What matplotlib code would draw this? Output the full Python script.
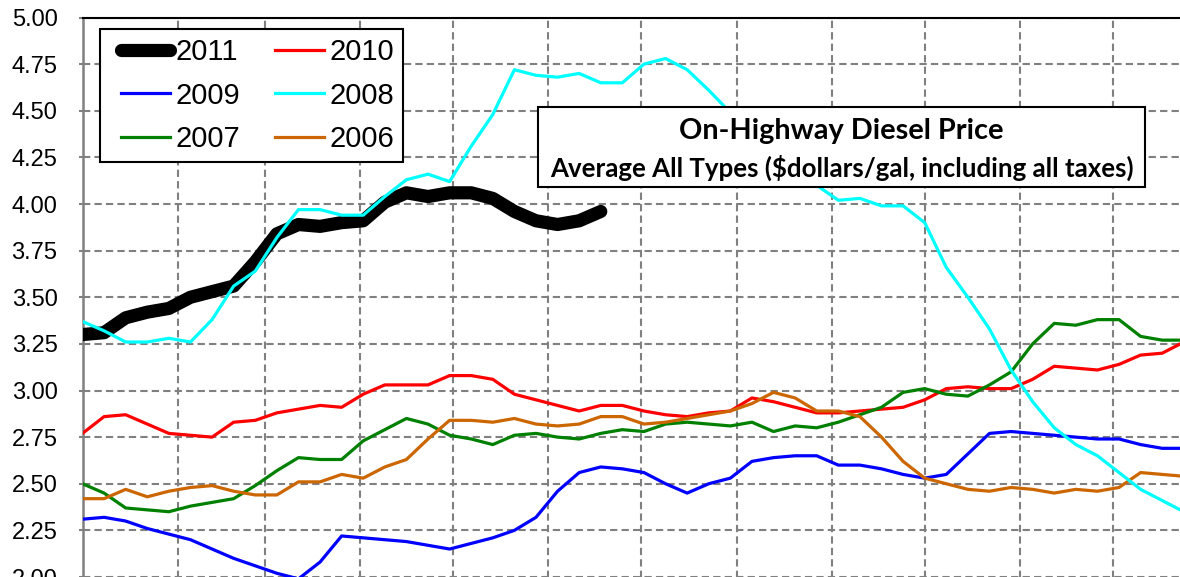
import numpy as np
import matplotlib
matplotlib.use("Agg")
import matplotlib.pyplot as plt
from matplotlib.patches import Rectangle
from matplotlib.legend_handler import HandlerLine2D

# weekly on-highway diesel prices ($/gal), week index 0..51
y2011 = [3.30, 3.31, 3.39, 3.42, 3.44, 3.50, 3.53, 3.56, 3.69, 3.84, 3.89, 3.88, 3.90,
         3.91, 4.01, 4.06, 4.04, 4.06, 4.06, 4.03, 3.96, 3.91, 3.89, 3.91, 3.96]
y2010 = [2.77, 2.86, 2.87, 2.82, 2.77, 2.76, 2.75, 2.83, 2.84, 2.88, 2.90, 2.92, 2.91,
         2.98, 3.03, 3.03, 3.03, 3.08, 3.08, 3.06, 2.98, 2.95, 2.92, 2.89, 2.92, 2.92,
         2.89, 2.87, 2.86, 2.88, 2.89, 2.96, 2.94, 2.91, 2.88, 2.88, 2.89, 2.90, 2.91,
         2.95, 3.01, 3.02, 3.01, 3.01, 3.06, 3.13, 3.12, 3.11, 3.14, 3.19, 3.20, 3.26]
y2009 = [2.31, 2.32, 2.30, 2.26, 2.23, 2.20, 2.15, 2.10, 2.06, 2.02, 1.99, 2.08, 2.22,
         2.21, 2.20, 2.19, 2.17, 2.15, 2.18, 2.21, 2.25, 2.32, 2.46, 2.56, 2.59, 2.58,
         2.56, 2.50, 2.45, 2.50, 2.53, 2.62, 2.64, 2.65, 2.65, 2.60, 2.60, 2.58, 2.55,
         2.53, 2.55, 2.66, 2.77, 2.78, 2.77, 2.76, 2.75, 2.74, 2.74, 2.71, 2.69, 2.69]
y2008 = [3.37, 3.32, 3.26, 3.26, 3.28, 3.26, 3.38, 3.56, 3.64, 3.82, 3.97, 3.97, 3.94,
         3.94, 4.04, 4.13, 4.16, 4.12, 4.31, 4.48, 4.72, 4.69, 4.68, 4.70, 4.65, 4.65,
         4.75, 4.78, 4.72, 4.61, 4.49, 4.39, 4.29, 4.19, 4.10, 4.02, 4.03, 3.99, 3.99,
         3.90, 3.66, 3.50, 3.33, 3.11, 2.94, 2.80, 2.71, 2.65, 2.56, 2.47, 2.41, 2.35]
y2007 = [2.50, 2.45, 2.37, 2.36, 2.35, 2.38, 2.40, 2.42, 2.49, 2.57, 2.64, 2.63, 2.63,
         2.73, 2.79, 2.85, 2.82, 2.76, 2.74, 2.71, 2.76, 2.77, 2.75, 2.74, 2.77, 2.79,
         2.78, 2.82, 2.83, 2.82, 2.81, 2.83, 2.78, 2.81, 2.80, 2.83, 2.87, 2.91, 2.99,
         3.01, 2.98, 2.97, 3.03, 3.10, 3.25, 3.36, 3.35, 3.38, 3.38, 3.29, 3.27, 3.27]
y2006 = [2.42, 2.42, 2.47, 2.43, 2.46, 2.48, 2.49, 2.46, 2.44, 2.44, 2.51, 2.51, 2.55,
         2.53, 2.59, 2.63, 2.74, 2.84, 2.84, 2.83, 2.85, 2.82, 2.81, 2.82, 2.86, 2.86,
         2.82, 2.83, 2.85, 2.87, 2.89, 2.93, 2.99, 2.96, 2.89, 2.89, 2.86, 2.75, 2.62,
         2.53, 2.50, 2.47, 2.46, 2.48, 2.47, 2.45, 2.47, 2.46, 2.48, 2.56, 2.55, 2.54]

month_starts = [0, 31, 59, 90, 120, 151, 181, 212, 243, 273, 304, 334, 365]
yticks = np.arange(2.0, 5.001, 0.25)

def days(vals):
    return 7 * np.arange(len(vals))

W, H = 1180, 577
fig = plt.figure(figsize=(W / 100, H / 100), dpi=100)

# axes placed in pixels: 5.00 at y=17.5, 186.5 px per dollar, plot runs past the image edges
ymin, ymax = 1.75, 5.0
ax_h = (ymax - ymin) * 186.5
ax = fig.add_axes([82.5 / W, (H - 17.5 - ax_h) / H, 1126 / W, ax_h / H])

ax.plot(days(y2011), y2011, color="black", lw=9.5, solid_capstyle="round",
        solid_joinstyle="round", label="2011", zorder=3)
ax.plot(days(y2009), y2009, color="#0000FF", lw=2.3, label="2009", zorder=4)
ax.plot(days(y2010), y2010, color="#FF0000", lw=2.3, label="2010", zorder=5)
ax.plot(days(y2007), y2007, color="#008000", lw=2.3, label="2007", zorder=6)
ax.plot(days(y2006), y2006, color="#CC6600", lw=2.3, label="2006", zorder=7)
ax.plot(days(y2008), y2008, color="#00FFFF", lw=2.3, label="2008", zorder=8)

ax.set_xlim(0, 365)
ax.set_ylim(ymin, ymax)
ax.set_xticks(month_starts)
ax.set_xticklabels([])
ax.set_yticks(yticks)
ax.set_yticklabels([f"{v:.2f}" for v in yticks], family="Liberation Sans", fontsize=17)
ax.tick_params(axis="x", length=0)
ax.tick_params(axis="y", length=3, width=1.5, color="#808080", pad=15)
ax.grid(True, color="#808080", linestyle=(0, (3.5, 2)), linewidth=1.5, zorder=1)
ax.set_axisbelow(True)

ax.spines["right"].set_visible(False)
ax.spines["bottom"].set_visible(False)
ax.spines["left"].set_color("#808080")
ax.spines["left"].set_linewidth(1.8)
ax.spines["top"].set_color("black")
ax.spines["top"].set_linewidth(1.5)

h = {l.get_label(): l for l in ax.get_lines()}
order = ["2011", "2009", "2007", "2010", "2008", "2006"]
leg = ax.legend([h[k] for k in order], order, ncol=2, loc="upper left",
                bbox_to_anchor=(100 / W, 1 - 29 / H), bbox_transform=fig.transFigure,
                prop={"family": "Liberation Sans", "size": 21}, fancybox=False,
                framealpha=1, edgecolor="black", borderaxespad=0, borderpad=0.31,
                handlelength=2.09, handletextpad=0.19, columnspacing=0.78,
                labelspacing=0.53,
                handler_map={l: HandlerLine2D(xpad=0.41) for l in ax.get_lines()})
leg.get_frame().set_linewidth(1.5)
leg.set_zorder(20)

# title box
x0, x1, yt, yb = 538, 1145, 107, 187
fig.add_artist(Rectangle((x0 / W, 1 - yb / H), (x1 - x0) / W, (yb - yt) / H,
                         transform=fig.transFigure, facecolor="white",
                         edgecolor="black", lw=1.5, zorder=10))
fig.text((x0 + x1) / 2 / W, 1 - 131 / H, "On-Highway Diesel Price", family="Lato",
         weight="bold", fontsize=20.8, ha="center", va="center", zorder=11)
fig.text((x0 + x1) / 2 / W, 1 - 168 / H,
         "Average All Types ($dollars/gal, including all taxes)", family="Lato",
         weight="bold", fontsize=18.6, ha="center", va="center", zorder=11)

fig.savefig("out.png", dpi=100)
